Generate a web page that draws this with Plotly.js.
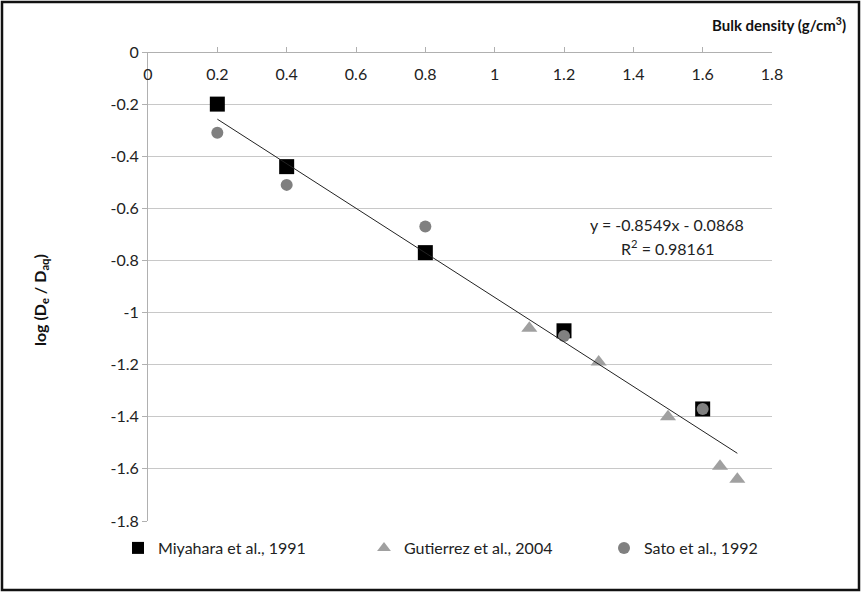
<!DOCTYPE html>
<html><head><meta charset="utf-8">
<script src="https://cdn.plot.ly/plotly-3.0.1.min.js"></script>
<style>html,body{margin:0;padding:0;background:#fff;}#c{width:861px;height:592px;}</style>
</head><body><div id="c"></div>
<script>
// Data
const miyaharaX = [0.2, 0.4, 0.8, 1.2, 1.6];
const miyaharaY = [-0.20, -0.44, -0.77, -1.07, -1.37];
const gutierrezX = [1.1, 1.3, 1.5, 1.65, 1.7];
const gutierrezY = [-1.06, -1.19, -1.40, -1.59, -1.64];
const satoX = [0.2, 0.4, 0.8, 1.2, 1.6];
const satoY = [-0.31, -0.51, -0.67, -1.09, -1.37];
const trendSlope = -0.8549;
const trendIntercept = -0.0868;
const trendX = [0.2, 1.7];
const trendY = trendX.map(x => trendSlope * x + trendIntercept);
const xTicks = [0, 0.2, 0.4, 0.6, 0.8, 1, 1.2, 1.4, 1.6, 1.8];
const yTicks = [0, -0.2, -0.4, -0.6, -0.8, -1, -1.2, -1.4, -1.6, -1.8];
const seriesNames = ["Miyahara et al., 1991", "Gutierrez et al., 2004", "Sato et al., 1992"];

const FONT = "Lato, 'Open Sans', sans-serif";
const W = 861, H = 592;
const L = 148, R = 861 - 772, T = 52, B = 592 - 521;
const pw = W - L - R, ph = H - T - B;
const px = v => (v - L) / pw;
const py = v => (H - B - v) / ph;

const traces = [
  {x: miyaharaX, y: miyaharaY, name: seriesNames[0], type: 'scatter', mode: 'markers',
   marker: {symbol: 'square', size: 15, color: '#000000'}, legend: 'legend'},
  {x: gutierrezX, y: gutierrezY, name: seriesNames[1], type: 'scatter', mode: 'markers',
   marker: {symbol: 'triangle-up', size: 14, color: '#a0a0a0'}, legend: 'legend2'},
  {x: satoX, y: satoY, name: seriesNames[2], type: 'scatter', mode: 'markers',
   marker: {symbol: 'circle', size: 12, color: '#808080'}, legend: 'legend3'},
  {x: trendX, y: trendY, type: 'scatter', mode: 'lines', showlegend: false,
   line: {color: '#222', width: 1}}
];

const legBase = {orientation: 'h', yanchor: 'middle', xanchor: 'left', bgcolor: 'rgba(0,0,0,0)',
  font: {family: FONT, size: 16, color: '#222'}, itemwidth: 30, itemsizing: 'constant', tracegroupgap: 0};

const layout = {
  width: W, height: H,
  margin: {l: L, r: R, t: T, b: B},
  paper_bgcolor: '#fff', plot_bgcolor: '#fff',
  font: {family: FONT, size: 16, color: '#222'},
  xaxis: {range: [0, 1.8], tickvals: xTicks, ticktext: xTicks.map(String),
    anchor: 'free', position: 1, side: 'bottom', showgrid: false, zeroline: false,
    showline: true, linecolor: '#b0b0b0', linewidth: 1, ticks: 'inside', ticklen: 5,
    ticklabelstandoff: 8,
    tickcolor: '#b0b0b0', tickfont: {family: FONT, size: 16, color: '#222'}, fixedrange: true},
  yaxis: {range: [-1.8, 0], tickvals: yTicks, ticktext: yTicks.map(String),
    showgrid: true, gridcolor: '#c8c8c8', gridwidth: 1, zeroline: false,
    showline: true, linecolor: '#b0b0b0', linewidth: 1, ticks: 'outside', ticklen: 5,
    tickcolor: '#b0b0b0', tickfont: {family: FONT, size: 16, color: '#222'}, fixedrange: true},
  showlegend: true,
  legend: Object.assign({}, legBase, {x: px(118), y: py(548)}),
  legend2: Object.assign({}, legBase, {x: px(364), y: py(548)}),
  legend3: Object.assign({}, legBase, {x: px(604), y: py(548)}),
  annotations: [
    {xref: 'paper', yref: 'paper', x: px(848), y: py(25), xanchor: 'right', yanchor: 'middle',
     text: '<b>Bulk density (g/cm<sup>3</sup>)</b>', showarrow: false, font: {family: FONT, size: 15, color: '#111'}},
    {xref: 'paper', yref: 'paper', x: px(40), y: py(300), xanchor: 'center', yanchor: 'middle', textangle: -90,
     text: '<b>log (D<sub>e</sub> / D<sub>aq</sub>)</b>', showarrow: false, font: {family: FONT, size: 16, color: '#111'}},
    {xref: 'paper', yref: 'paper', x: px(667), y: py(224), xanchor: 'center', yanchor: 'middle',
     text: 'y = ' + trendSlope + 'x - ' + Math.abs(trendIntercept), showarrow: false, font: {family: FONT, size: 16, color: '#222'}},
    {xref: 'paper', yref: 'paper', x: px(667), y: py(247), xanchor: 'center', yanchor: 'middle',
     text: 'R<sup>2</sup> = 0.98161', showarrow: false, font: {family: FONT, size: 16, color: '#222'}}
  ],
  shapes: [
    {type: 'rect', xref: 'paper', yref: 'paper', x0: px(2), x1: px(859), y0: py(590), y1: py(2),
     line: {color: '#111', width: 2.5}, fillcolor: 'rgba(0,0,0,0)', layer: 'above'}
  ]
};

Plotly.newPlot('c', traces, layout, {staticPlot: true, displayModeBar: false});
</script></body></html>
